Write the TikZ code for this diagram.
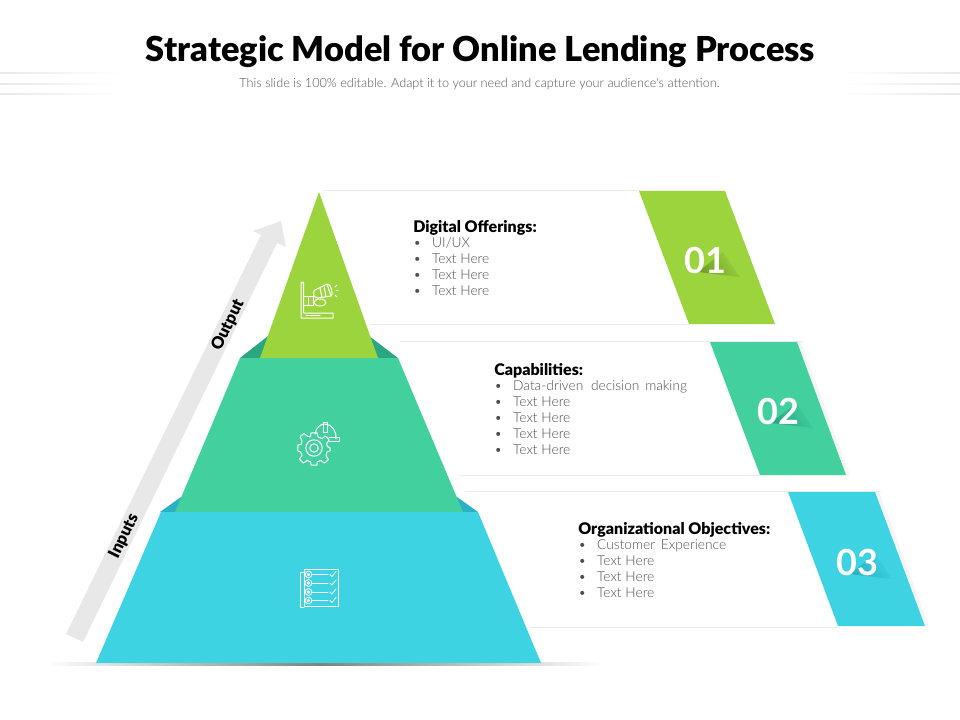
\documentclass[tikz,border=0pt]{standalone}
\usepackage{fontspec}
\setmainfont{Lato}
\newfontfamily\heavyf{Lato Black}
\newfontfamily\lightf{Lato Light}
\usetikzlibrary{fadings}
\definecolor{gA}{HTML}{9CD43E}
\definecolor{gAd}{HTML}{6F9E2B}
\definecolor{tB}{HTML}{43D09F}
\definecolor{tBd}{HTML}{2AA683}
\definecolor{cC}{HTML}{3DD3E3}
\definecolor{cCd}{HTML}{2BB0C4}
\definecolor{edgeg}{HTML}{EBEBEB}
\definecolor{arrowg}{HTML}{E8E8E8}
\definecolor{subg}{HTML}{555555}
\definecolor{bodyg}{HTML}{505050}
\tikzset{
  x=0.75pt,y=-0.75pt,
  panelline/.style={draw=edgeg,line width=0.6pt},
  headtext/.style={anchor=west,inner sep=0pt,font=\fontsize{12pt}{14pt}\selectfont\heavyf,text=black},
  listtext/.style={anchor=north west,inner sep=0pt,align=left,font=\fontsize{10.3pt}{12pt}\selectfont\lightf,text=bodyg},
  numtext/.style={inner sep=0pt,font=\fontsize{27pt}{30pt}\selectfont\bfseries,text=white},
  sidetext/.style={inner sep=0pt,font=\fontsize{12.4pt}{14pt}\selectfont\heavyf,text=black},
  icon/.style={draw=white,line width=0.75pt,fill=none,line join=round,line cap=round}
}
\newcommand{\bul}[1]{\makebox[14.2pt][l]{•}#1}
\begin{document}
\begin{tikzpicture}
\useasboundingbox (0,0) rectangle (960,720);
\fill[white] (0,0) rectangle (960,720);

% decorative lines
\foreach \yy in {73,84,94}{
  \shade[left color=black!9,right color=white] (0,\yy-0.8) rectangle (120,\yy+0.8);
  \shade[left color=white,right color=black!9] (840,\yy-0.8) rectangle (960,\yy+0.8);
}

% title
\node[inner sep=0pt,font=\fontsize{25.8pt}{30pt}\selectfont\heavyf,text=black] (title) at (480.5,51.5) {Strategic Model for Online Lending Process};
\node[inner sep=0pt,font=\fontsize{9.5pt}{11pt}\selectfont\lightf,text=subg] (subtitle) at (479.5,84.5) {This slide is 100\% editable. Adapt it to your need and capture your audience's attention.};

% panel edges
\draw[panelline] (323,190) -- (640,190);
\draw[panelline] (370,324.5) -- (690,324.5);
\draw[panelline] (400,341) -- (803,341);
\draw[panelline] (460,475.5) -- (760,475.5);
\draw[panelline] (465,491) -- (881,491);
\draw[panelline] (530,627) -- (838,627);

% band side shadows
\fill[black!4] (797,342) -- (801,342) -- (850,475) -- (846,475) -- cycle;
\fill[black!4] (875,492) -- (879,492) -- (929,626) -- (925,626) -- cycle;

% bands
\fill[gA] (639,191) -- (725,191) -- (775,324) -- (689,324) -- cycle;
\fill[tB] (710,342) -- (797,342) -- (846,475) -- (760,475) -- cycle;
\fill[cC] (788,492) -- (875,492) -- (925,626) -- (838,626) -- cycle;

% number shadows
\shade[left color=gAd,right color=gA,shading angle=125] (723,252) -- (740,277) -- (698,272) -- cycle;
\shade[left color=tBd,right color=tB,shading angle=125] (796,403) -- (813,428) -- (771,423) -- cycle;
\shade[left color=cCd,right color=cC,shading angle=125] (875,554) -- (892,579) -- (850,574) -- cycle;

\node[numtext] (n1) at (705,260) {01};
\node[numtext] (n2) at (778,411) {02};
\node[numtext] (n3) at (857,562) {03};

% texts
\node[headtext] (h1) at (413,227.5) {Digital Offerings:};
\node[listtext] (l1) at (413,237.5) {\bul{UI/UX}\\\bul{Text Here}\\\bul{Text Here}\\\bul{Text Here}};
\node[headtext] (h2) at (494,370.5) {Capabilities:};
\node[listtext] (l2) at (494,380.5) {\bul{Data-driven\hspace{3pt} decision\hspace{1.5pt} making}\\\bul{Text Here}\\\bul{Text Here}\\\bul{Text Here}\\\bul{Text Here}};
\node[headtext] (h3) at (578,529.5) {Organizational Objectives:};
\node[listtext] (l3) at (578,539.5) {\bul{Customer\hspace{1.5pt} Experience}\\\bul{Text Here}\\\bul{Text Here}\\\bul{Text Here}};

% gray arrow
\fill[arrowg] (66,634) -- (83,642) -- (277,243) -- (286,247) -- (281,221) -- (253,231) -- (261,235) -- cycle;
\node[sidetext,rotate=64] (outlab) at (228,325) {Output};
\node[sidetext,rotate=64] (inlab) at (124,536) {Inputs};

% ground shadow
\shade[left color=white,right color=black!50] (45,662) rectangle (320,665);
\shade[left color=black!50,right color=white] (320,662) rectangle (605,665);

% pyramid shadows
\fill[tBd] (240,358) -- (268,336) -- (268,358) -- cycle;
\fill[tBd] (398,358) -- (369,336) -- (369,358) -- cycle;
\fill[cCd] (160,512) -- (181,497) -- (186,512) -- cycle;
\fill[cCd] (478,512) -- (457,497) -- (452,512) -- cycle;

% pyramid
\fill[tB] (240,358) -- (398,358) -- (463,512) -- (175,512) -- cycle;
\fill[cC] (161,512) -- (478,512) -- (541,663) -- (96,663) -- cycle;
\fill[gA] (319,192) -- (378,358) -- (260,358) -- cycle;

% icon 1: megaphone
\draw[icon] (301,282) -- (301,318) -- (333,318) -- (333,313) -- (303.5,313) -- (303.5,282) arc[start angle=0,end angle=180,x radius=1.25,y radius=1.25];
\draw[icon] (303.5,297) -- (313,297) -- (313,306) -- (303.5,306);
\draw[icon] (308,297) -- (308,306);
\draw[icon] (320,302.5) ellipse[x radius=6,y radius=3.5];
\draw[icon] (315,290) -- (327,284) -- (331,296) -- (318,298);
\draw[icon] (315,290) .. controls (312,292) and (313,298) .. (318,298);
\draw[icon] (327,284) .. controls (331,283) and (334,295) .. (331,296);
\draw[icon] (320,288) -- (322,297.5);
\draw[icon] (324,286) -- (326,297);
\draw[icon] (335,287) -- (337,285);
\draw[icon] (336,291) -- (338,291);
\draw[icon] (335,295) -- (337,297);
\draw[icon] (306,315.5) -- (320,315.5);

% icon 2: gear and helmet
\begin{scope}[shift={(1,0)}]
\draw[icon] (313,448) circle[radius=8.2];
\draw[icon] (313,448) circle[radius=4.2];
\draw[icon] plot[smooth cycle,tension=0.15] coordinates {
  (310,433) (316,433) (317,437) (321,438.5) (324.5,436) (328,440) (325.5,444) (327,447)
  (329,448) (329,451) (326,452) (325,456) (327.5,459.5) (323.5,463) (320,460.5) (316,462) (316,465)
  (310,465) (309.5,462) (306,460.5) (302.5,463) (298.5,459) (301,455.5) (299.5,452) (297,451)
  (297,445) (300,444.5) (301,440.5) (299,437) (303,433.5) (306,436) (309.5,437)};
\draw[icon] (314,434) .. controls (315,427) and (320,424) .. (324,424) .. controls (331,424) and (336,432) .. (335,439);
\draw[icon] (322,422.5) -- (322,432) -- (326,432) -- (326,422.5) -- cycle;
\draw[icon] (328,437) -- (338,437) -- (338,441) -- (328,441);
\end{scope}

% icon 3: checklist
\draw[icon] (304,569) -- (338,569) -- (338,606) -- (304,606) -- cycle;
\draw[icon] (304,572) -- (300,572) -- (300,607) -- (304,607);
\foreach \yy in {574.5,583,592,600.5}{
  \draw[icon,line width=0.6pt] (308.5,\yy) circle[radius=3.4];
  \draw[icon,line width=0.6pt] (308.5,\yy) circle[radius=1.3];
  \draw[icon,line width=0.6pt] (312,\yy) -- (328,\yy);
  \draw[icon,line width=0.6pt] (330,\yy) -- (332,\yy+2) -- (336,\yy-3);
}
\end{tikzpicture}
\end{document}
